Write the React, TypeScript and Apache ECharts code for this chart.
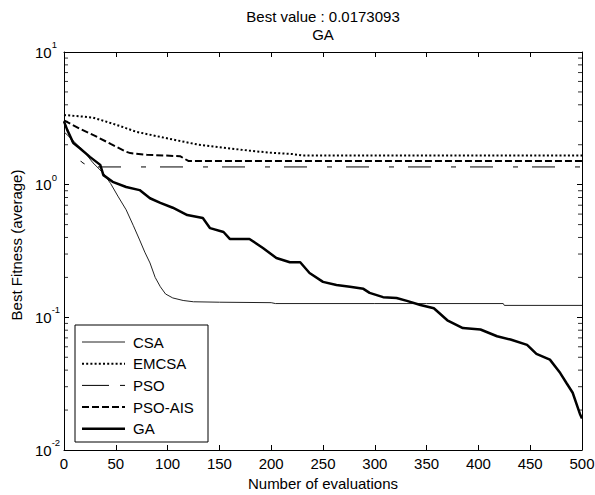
import React, { useEffect, useRef } from "react";
import * as echarts from "echarts";

const FONT = "'Liberation Sans', Arial, Helvetica, sans-serif";

const titleLines = ["Best value : 0.0173093", "GA"];
const xLabel = "Number of evaluations";
const yLabel = "Best Fitness (average)";
const seriesNames = ["CSA", "EMCSA", "PSO", "PSO-AIS", "GA"];

const csaX = [0, 5, 10, 20, 28, 38, 45, 52, 60, 67, 73, 78, 83, 88, 93, 98, 105, 115, 125, 150, 200, 204, 250, 300, 350, 424, 425, 500];
const csaY = [2.5, 2.3, 2.1, 1.75, 1.46, 1.22, 1.02, 0.82, 0.646, 0.49, 0.383, 0.31, 0.257, 0.2, 0.17, 0.15, 0.14, 0.134, 0.131, 0.13, 0.129, 0.127, 0.127, 0.127, 0.127, 0.127, 0.123, 0.123];

const emcsaX = [0, 10, 20, 28, 40, 55, 70, 93, 110, 130, 157, 180, 200, 221, 230, 500];
const emcsaY = [3.35, 3.3, 3.25, 3.2, 3.0, 2.75, 2.5, 2.29, 2.15, 2.0, 1.89, 1.8, 1.74, 1.7, 1.66, 1.66];

const psoX = [0, 5, 10, 14, 17, 22, 28, 500];
const psoY = [3.0, 2.4, 1.9, 1.6, 1.48, 1.4, 1.36, 1.36];

const psoAisX = [0, 15, 30, 45, 60, 64, 80, 112, 120, 500];
const psoAisY = [3.05, 2.65, 2.33, 2.03, 1.77, 1.73, 1.68, 1.64, 1.51, 1.51];

const gaX = [0, 3, 9, 15, 25, 35, 38, 47, 60, 73, 83, 93, 105, 119, 134, 141, 154, 160, 179, 192, 205, 218, 228, 237, 250, 263, 276, 289, 295, 308, 321, 331, 344, 357, 370, 385, 402, 418, 431, 447, 456, 469, 479, 485, 491, 498, 500];
const gaY = [3.0, 2.6, 2.06, 1.89, 1.62, 1.41, 1.18, 1.05, 0.96, 0.91, 0.79, 0.73, 0.67, 0.59, 0.56, 0.47, 0.44, 0.39, 0.39, 0.333, 0.28, 0.26, 0.26, 0.216, 0.185, 0.175, 0.17, 0.164, 0.153, 0.142, 0.14, 0.133, 0.124, 0.117, 0.095, 0.083, 0.081, 0.072, 0.068, 0.062, 0.053, 0.048, 0.038, 0.032, 0.027, 0.0187, 0.0173];

const decades = [0.01, 0.1, 1];
const minorMultipliers = [2, 3, 4, 5, 6, 7, 8, 9];

const zip = (xs: number[], ys: number[]) => xs.map((x, i) => [x, ys[i]]);

const styles: Record<string, { color: string; width: number; dash: any }> = {
  CSA: { color: "#222", width: 1, dash: "solid" },
  EMCSA: { color: "#000", width: 2, dash: [2, 2.2] },
  PSO: { color: "#000", width: 1, dash: [23, 20, 5, 14] },
  "PSO-AIS": { color: "#000", width: 2, dash: [7, 3] },
  GA: { color: "#000", width: 2.5, dash: "solid" },
};
const legendDash: Record<string, any> = {
  CSA: null,
  EMCSA: [2, 2.2],
  PSO: [27, 11, 5, 100],
  "PSO-AIS": [7, 3],
  GA: null,
};

export default function App() {
  const ref = useRef<HTMLDivElement>(null);
  useEffect(() => {
    document.body.style.margin = "0";
    if (!ref.current) return;
    const chart = echarts.init(ref.current, undefined, { renderer: "svg" });
    const minorVals: number[][] = [];
    decades.forEach((d) => minorMultipliers.forEach((m) => minorVals.push([0, d * m])));
    const minorValsRight = minorVals.map((p) => [500, p[1]]);

    const axisCommon = {
      axisLine: { show: true, onZero: false, lineStyle: { color: "#000", width: 1 } },
      axisTick: { show: true, inside: true, length: 5, lineStyle: { color: "#000" } },
      splitLine: { show: false },
    };

    const dataSets: Record<string, number[][]> = {
      CSA: zip(csaX, csaY),
      EMCSA: zip(emcsaX, emcsaY),
      PSO: zip(psoX, psoY),
      "PSO-AIS": zip(psoAisX, psoAisY),
      GA: zip(gaX, gaY),
    };
    const zs: Record<string, number> = { CSA: 2, EMCSA: 3, PSO: 2, "PSO-AIS": 3, GA: 4 };

    const legendLeft = 75, legendTop = 325, legendW = 133, legendH = 117;
    const itemY0 = 342, itemStep = 21.7;
    const legendChildren: any[] = [
      {
        type: "rect",
        shape: { x: legendLeft, y: legendTop, width: legendW, height: legendH },
        style: { fill: "#fff", stroke: "#000", lineWidth: 1 },
      },
    ];
    seriesNames.forEach((n, i) => {
      const y = itemY0 + i * itemStep;
      const st = styles[n];
      legendChildren.push({
        type: "line",
        shape: { x1: 82, y1: y, x2: 125, y2: y },
        style: { stroke: st.color, lineWidth: st.width, lineDash: legendDash[n] },
      });
      legendChildren.push({
        type: "text",
        x: 133,
        y: y,
        style: { text: n, fill: "#000", font: "15px " + FONT, verticalAlign: "middle", align: "left" },
      });
    });

    const tickSeries = (data: number[][], offset: number) => ({
      type: "scatter",
      silent: true,
      clip: false,
      symbol: "rect",
      symbolSize: [4, 1],
      symbolOffset: [offset, 0],
      itemStyle: { color: "#000" },
      data,
      z: 5,
    });

    const option: any = {
      animation: false,
      backgroundColor: "#fff",
      title: {
        text: titleLines.join("\n"),
        left: 323,
        textAlign: "center",
        top: 7,
        padding: 0,
        textStyle: { fontSize: 15, fontWeight: "normal", color: "#000", lineHeight: 18, fontFamily: FONT },
      },
      grid: { left: 64, top: 52, right: 13, bottom: 45, containLabel: false, outerBoundsMode: "none" },
      graphic: [{ type: "group", z: 100, children: legendChildren }],
      xAxis: [
        {
          type: "value",
          min: 0,
          max: 500,
          interval: 50,
          position: "bottom",
          ...axisCommon,
          axisLabel: { color: "#000", fontSize: 15, fontFamily: FONT, margin: 6 },
          name: xLabel,
          nameLocation: "middle",
          nameGap: 25,
          nameTextStyle: { color: "#000", fontSize: 15, fontFamily: FONT },
        },
        {
          type: "value",
          min: 0,
          max: 500,
          interval: 50,
          position: "top",
          ...axisCommon,
          axisLabel: { show: false },
        },
      ],
      yAxis: [
        {
          type: "log",
          logBase: 10,
          min: 0.01,
          max: 10,
          position: "left",
          ...axisCommon,
          axisLabel: {
            align: "left",
            margin: 29,
            formatter: (v: number) => "{b|10}{s|" + Math.round(Math.log10(v)) + "}",
            rich: {
              b: { fontSize: 15, color: "#000", fontFamily: FONT, lineHeight: 25, verticalAlign: "middle" },
              s: { fontSize: 9.5, color: "#000", fontFamily: FONT, lineHeight: 9, verticalAlign: "top" },
            },
          },
          name: yLabel,
          nameLocation: "middle",
          nameGap: 26,
          nameTextStyle: { color: "#000", fontSize: 15, fontFamily: FONT, padding: [0, 0, 0, 12] },
        },
        {
          type: "log",
          logBase: 10,
          min: 0.01,
          max: 10,
          position: "right",
          ...axisCommon,
          axisLabel: { show: false },
        },
      ],
      series: [
        ...seriesNames.map((n) => ({
          name: n,
          type: "line",
          symbol: "none",
          data: dataSets[n],
          lineStyle: { color: styles[n].color, width: styles[n].width, type: styles[n].dash },
          itemStyle: { color: styles[n].color },
          z: zs[n],
        })),
        tickSeries(minorVals, 2),
        tickSeries(minorValsRight, -2),
      ],
    };
    chart.setOption(option);
    return () => chart.dispose();
  }, []);
  return <div ref={ref} style={{ width: 595, height: 495, position: "fixed", left: 0, top: 0 }} />;
}
